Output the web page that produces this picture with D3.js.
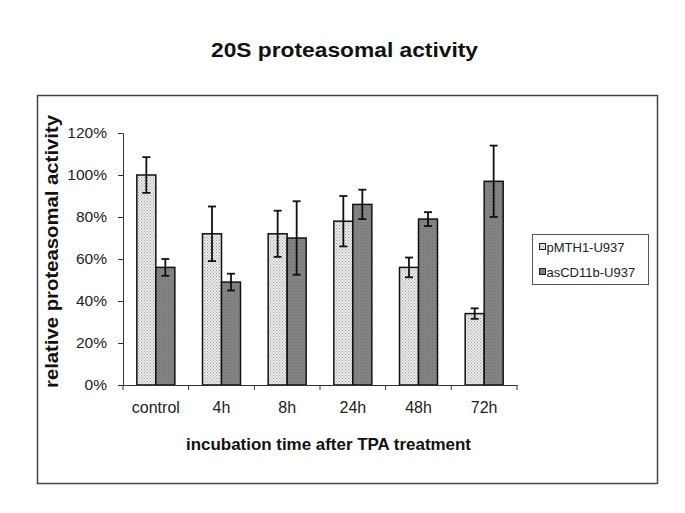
<!DOCTYPE html>
<html><head><meta charset="utf-8">
<script src="https://cdn.jsdelivr.net/npm/d3@7"></script>
<style>body{margin:0;background:#fff;}svg{display:block;font-family:Arial,"Liberation Sans",sans-serif;}</style>
</head><body>
<svg id="c" width="685" height="513"></svg>
<script>
const categories = ["control","4h","8h","24h","48h","72h"];
const seriesNames = ["pMTH1-U937","asCD11b-U937"];
const pMTH1 = [100, 72, 72, 78, 56, 34];
const pMTH1Err = [8.5, 13, 11, 12, 4.7, 2.5];
const asCD11b = [56, 49, 70, 86, 79, 97];
const asCD11bErr = [4, 4, 17.5, 7, 3.3, 17];
const yTicks = [0,20,40,60,80,100,120];

(function(){
const svg = d3.select("#c");
const defs = svg.append("defs");
function pat(id, bg, dot){
  const p = defs.append("pattern").attr("id",id).attr("width",3).attr("height",3).attr("patternUnits","userSpaceOnUse");
  p.append("rect").attr("width",3).attr("height",3).attr("fill",bg);
  p.append("rect").attr("x",0).attr("y",0).attr("width",1).attr("height",1).attr("fill",dot);
  p.append("rect").attr("x",1.5).attr("y",1.5).attr("width",1).attr("height",1).attr("fill",dot);
}
pat("pLight","#ebebeb","#a0a0a0");
pat("pDark","#888888","#686868");
const fills = ["url(#pLight)","url(#pDark)"];

// outer frame
svg.append("rect").attr("x",37.5).attr("y",95.5).attr("width",620).attr("height",388)
  .attr("fill","none").attr("stroke","#444").attr("stroke-width",1.5);

// title
svg.append("text").attr("x",344.5).attr("y",57).attr("text-anchor","middle")
  .attr("font-size",20.5).attr("font-weight","bold").attr("fill","#111")
  .attr("textLength",267).attr("lengthAdjust","spacingAndGlyphs").text("20S proteasomal activity");

const pLeft = 123, pRight = 517, pTop = 133, pBottom = 385;
const x = d3.scaleBand().domain(categories).range([pLeft,pRight]).paddingInner(0).paddingOuter(0);
const y = d3.scaleLinear().domain([0,120]).range([pBottom,pTop]);

const bw = 19;
const g = svg.append("g");
const data = [pMTH1, asCD11b], errs = [pMTH1Err, asCD11bErr];
categories.forEach((c,i)=>{
  const cx = x(c) + x.bandwidth()/2;
  [0,1].forEach(s=>{
    const x0 = cx - bw + s*bw;
    g.append("rect").attr("x",x0).attr("y",y(data[s][i])).attr("width",bw).attr("height",y(0)-y(data[s][i]))
      .attr("fill",fills[s]).attr("stroke","#111").attr("stroke-width",1.5);
  });
});
categories.forEach((c,i)=>{
  const cx = x(c) + x.bandwidth()/2;
  [0,1].forEach(s=>{
    const ex = cx - bw + s*bw + bw/2;
    const v = data[s][i], e = errs[s][i];
    g.append("line").attr("x1",ex).attr("x2",ex).attr("y1",y(v+e)).attr("y2",y(v-e)).attr("stroke","#111").attr("stroke-width",1.8);
    [v+e, v-e].forEach(t=>g.append("line").attr("x1",ex-4).attr("x2",ex+4).attr("y1",y(t)).attr("y2",y(t)).attr("stroke","#111").attr("stroke-width",1.8));
  });
});

// y axis
const ya = svg.append("g").attr("transform",`translate(${pLeft},0)`)
  .call(d3.axisLeft(y).tickValues(yTicks).tickFormat(d=>d+"%").tickSize(5).tickPadding(11));
ya.selectAll("path,line").attr("stroke","#333").attr("stroke-width",1);
ya.selectAll("text").attr("font-size",15.5).attr("fill","#222").attr("font-family","Arial, Liberation Sans, sans-serif");

// x axis
const xa = svg.append("g").attr("transform",`translate(0,${pBottom})`)
  .call(d3.axisBottom(x).tickSize(0).tickPadding(16.5));
xa.selectAll("text").attr("font-size",16).attr("fill","#222").attr("font-family","Arial, Liberation Sans, sans-serif");
xa.select("path").attr("stroke","#333");
xa.selectAll(".tick line").remove();
const bounds = categories.map(c=>x(c)).concat([pRight]);
svg.append("g").selectAll("line").data(bounds).join("line")
  .attr("x1",d=>d).attr("x2",d=>d).attr("y1",pBottom).attr("y2",pBottom+5).attr("stroke","#333");

// axis titles
svg.append("text").attr("x",328.5).attr("y",450).attr("text-anchor","middle")
  .attr("font-size",17).attr("font-weight","bold").attr("fill","#111")
  .attr("textLength",285).attr("lengthAdjust","spacingAndGlyphs").text("incubation time after TPA treatment");
svg.append("text").attr("transform","translate(57.5,251.5) rotate(-90)").attr("text-anchor","middle")
  .attr("font-size",18).attr("font-weight","bold").attr("fill","#111")
  .attr("textLength",273).attr("lengthAdjust","spacingAndGlyphs").text("relative proteasomal activity");

// legend
const lg = svg.append("g");
lg.append("rect").attr("x",532.5).attr("y",234.5).attr("width",116).attr("height",50).attr("fill","#fff").attr("stroke","#555").attr("stroke-width",1);
seriesNames.forEach((n,i)=>{
  const yy = 247 + i*25;
  lg.append("rect").attr("x",539.5).attr("y",yy-3.5).attr("width",6).attr("height",6).attr("fill",fills[i]).attr("stroke","#222").attr("stroke-width",1);
  lg.append("text").attr("x",546.5).attr("y",yy+4.5).attr("font-size",13).attr("fill","#222").text(n);
});
})();
</script>
</body></html>
